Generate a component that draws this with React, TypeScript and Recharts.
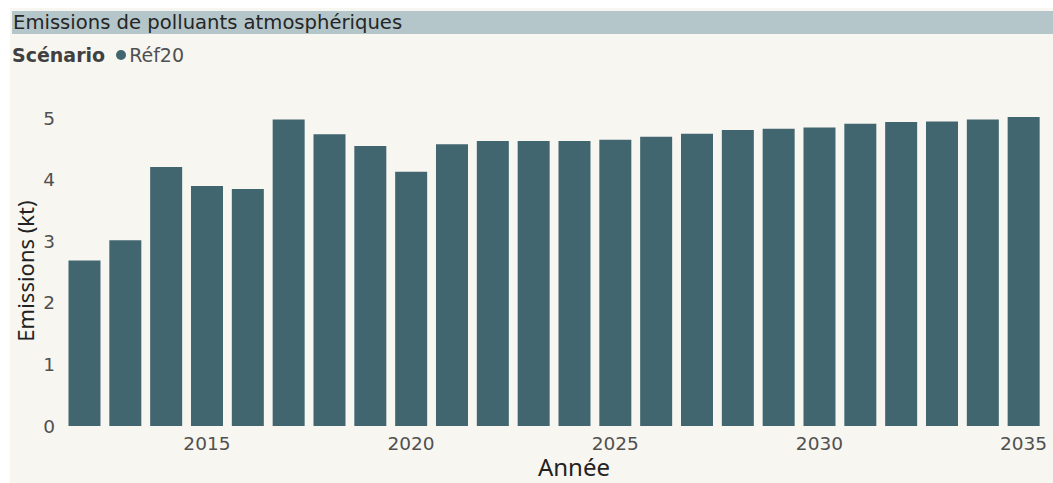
import { BarChart, Bar, XAxis, YAxis, Label } from 'recharts';

const years = [
  2012, 2013, 2014, 2015, 2016, 2017, 2018, 2019, 2020, 2021, 2022, 2023,
  2024, 2025, 2026, 2027, 2028, 2029, 2030, 2031, 2032, 2033, 2034, 2035,
];
const emissions = [
  2.69, 3.02, 4.21, 3.9, 3.85, 4.98, 4.74, 4.55, 4.13, 4.58, 4.63, 4.63,
  4.63, 4.65, 4.7, 4.75, 4.81, 4.83, 4.85, 4.91, 4.94, 4.95, 4.98, 5.02,
];
const xTicks = [2015, 2020, 2025, 2030, 2035];
const yTicks = [0, 1, 2, 3, 4, 5];

const data = years.map((year, i) => ({ year, emissions: emissions[i] }));

const barColor = '#41666f';
const tickStyle = { fontFamily: 'DejaVu Sans', fontSize: 18.5, fill: '#505050' };

export default function App() {
  return (
    <div style={{ position: 'absolute', left: 0, top: 0, width: 1053, height: 483, background: '#ffffff', overflow: 'hidden' }}>
      <div style={{ position: 'absolute', left: 10, top: 8, width: 1043, height: 475, background: '#f8f6f1' }} />
      <div
        style={{
          position: 'absolute', left: 12, top: 11, width: 1041, height: 23, background: '#b4c6ca',
          fontFamily: 'DejaVu Sans', fontSize: 19.6, color: '#252525', lineHeight: '23px', paddingLeft: 1, boxSizing: 'border-box',
        }}
      >
        Emissions de polluants atmosphériques
      </div>
      <div style={{ position: 'absolute', left: 12, top: 44, fontFamily: 'DejaVu Sans', fontSize: 19, color: '#404040', lineHeight: '22px', display: 'flex', alignItems: 'center' }}>
        <span style={{ fontWeight: 'bold', marginRight: 11 }}>Scénario</span>
        <span style={{ display: 'inline-block', width: 10, height: 10, borderRadius: 5, background: barColor, marginRight: 3 }} />
        <span style={{ color: '#505050' }}>Réf20</span>
      </div>
      <div style={{ position: 'absolute', left: 0, top: 0 }}>
        <BarChart width={1053} height={483} data={data} margin={{ top: 106, right: 9, bottom: 27, left: 0 }} barCategoryGap="11%">
          <XAxis
            dataKey="year"
            ticks={xTicks}
            height={30}
            axisLine={false}
            tickLine={false}
            tickSize={6}
            tickMargin={5}
            tick={tickStyle}
          >
            <Label value="Année" position="bottom" offset={3} dx={20} style={{ fontFamily: 'Noto Sans', fontSize: 24, fill: '#222' }} />
          </XAxis>
          <YAxis
            width={64}
            domain={[0, 5.2]}
            ticks={yTicks}
            axisLine={false}
            tickLine={false}
            tickSize={6}
            tickMargin={3}
            tick={tickStyle}
          >
            <Label value="Emissions (kt)" position="center" angle={-90} dx={-6} dy={5} style={{ fontFamily: 'Noto Sans', fontSize: 22, fill: '#222', textAnchor: 'middle' }} />
          </YAxis>
          <Bar dataKey="emissions" fill={barColor} isAnimationActive={false} />
        </BarChart>
      </div>
    </div>
  );
}
